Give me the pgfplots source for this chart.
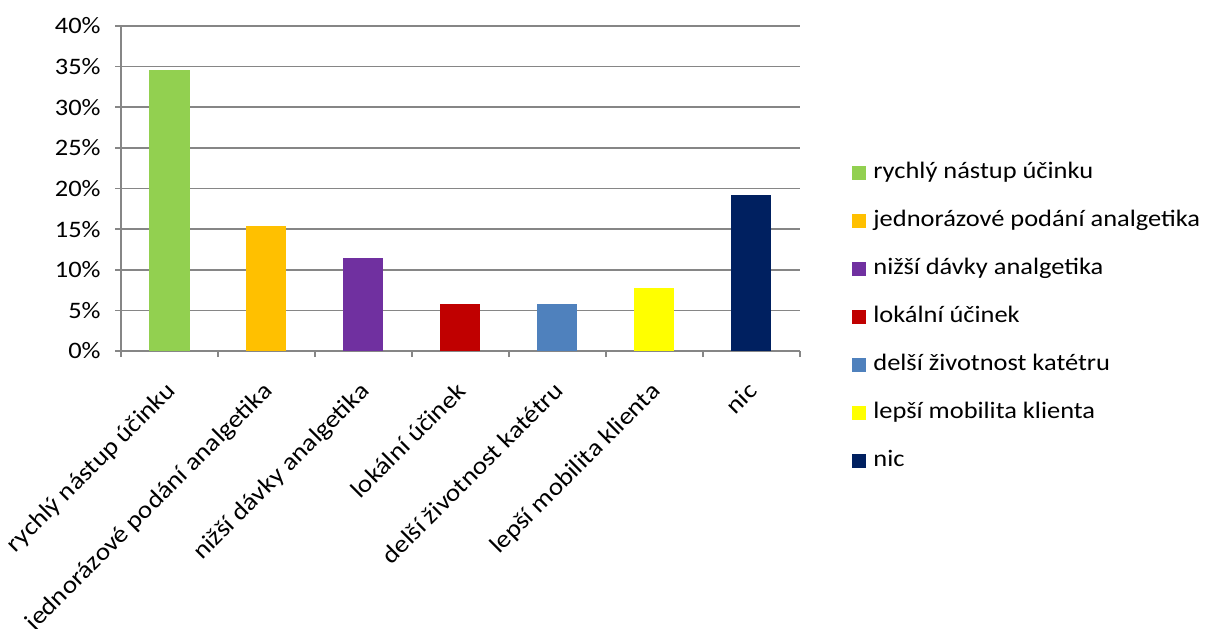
\documentclass[border=0pt]{standalone}
\usepackage{fontspec}
\setmainfont{Carlito}[FakeStretch=1.12]
\usepackage{pgfplots}
\pgfplotsset{compat=1.18}
\definecolor{c1}{HTML}{92D050}
\definecolor{c2}{HTML}{FFC000}
\definecolor{c3}{HTML}{7030A0}
\definecolor{c4}{HTML}{C00000}
\definecolor{c5}{HTML}{4F81BD}
\definecolor{c6}{HTML}{FFFF00}
\definecolor{c7}{HTML}{002060}
\definecolor{gridgray}{HTML}{868686}
\begin{document}
\fontsize{11.8}{14}\selectfont
\begin{tikzpicture}
\begin{axis}[
  at={(60.5pt,138.5pt)}, anchor=south west,
  scale only axis, width=339.5pt, height=162.5pt,
  xmin=-0.5, xmax=6.5, ymin=0, ymax=40,
  axis x line*=bottom, axis y line*=left,
  axis line style={gridgray, line width=0.8pt},
  ytick={0,5,...,40},
  yticklabels={0\%,5\%,10\%,15\%,20\%,25\%,30\%,35\%,40\%},
  yticklabel style={inner xsep=0pt, xshift=-7pt, anchor=east},
  ymajorgrids, grid style={gridgray, line width=0.8pt},
  xtick={0,1,2,3,4,5,6},
  xticklabels={rychlý nástup účinku, jednorázové podání analgetika, nižší dávky analgetika, lokální účinek, delší životnost katétru, lepší mobilita klienta, nic},
  xticklabel style={xshift=-2.5pt, yshift=-11.5pt, rotate=45, anchor=north east, inner sep=0pt, font=\fontsize{12.2}{14}\selectfont},
  major x tick style={draw=none},
  minor xtick={-0.5,0.5,...,6.5},
  tick align=outside, major tick length=3pt, minor tick length=3pt,
  tick style={gridgray, line width=0.8pt},
  bar width=20pt,
  legend cell align=left,
  legend image code/.code={\fill[#1] (0pt,-3.5pt) rectangle (7pt,3.5pt);},
  legend style={at={(1,0.105)}, anchor=west, xshift=26pt, draw=none, fill=none,
    inner sep=0pt, row sep=12.5pt,
    nodes={inner ysep=0pt, inner xsep=3.5pt, text height=8.5pt, text depth=3pt}},
]
\addplot[ybar, bar shift=0pt, fill=c1, draw=none] coordinates {(0,34.6)};
\addlegendentry{rychlý nástup účinku}
\addplot[ybar, bar shift=0pt, fill=c2, draw=none] coordinates {(1,15.4)};
\addlegendentry{jednorázové podání analgetika}
\addplot[ybar, bar shift=0pt, fill=c3, draw=none] coordinates {(2,11.5)};
\addlegendentry{nižší dávky analgetika}
\addplot[ybar, bar shift=0pt, fill=c4, draw=none] coordinates {(3,5.8)};
\addlegendentry{lokální účinek}
\addplot[ybar, bar shift=0pt, fill=c5, draw=none] coordinates {(4,5.8)};
\addlegendentry{delší životnost katétru}
\addplot[ybar, bar shift=0pt, fill=c6, draw=none] coordinates {(5,7.7)};
\addlegendentry{lepší mobilita klienta}
\addplot[ybar, bar shift=0pt, fill=c7, draw=none] coordinates {(6,19.2)};
\addlegendentry{nic}
\end{axis}
\pgfresetboundingbox
\path (0,0) rectangle (604pt,314pt);
\end{tikzpicture}
\end{document}
